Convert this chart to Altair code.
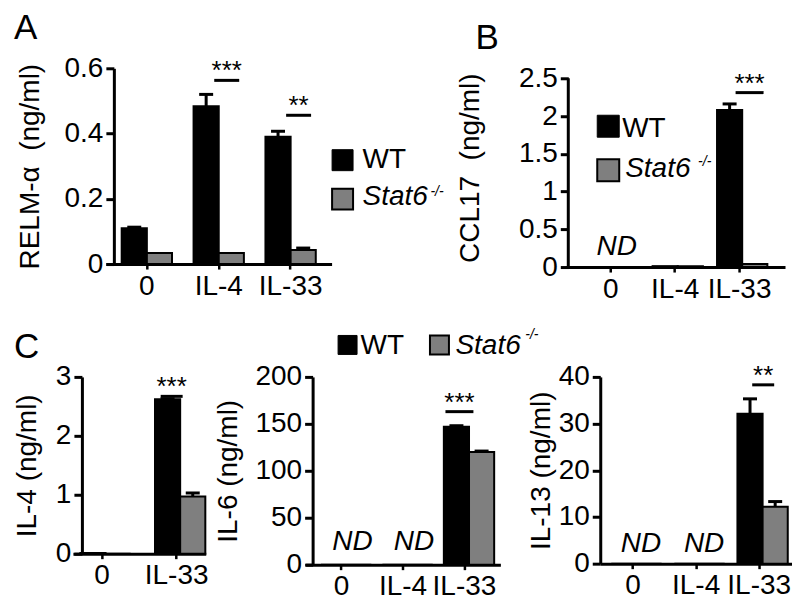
import altair as alt
import pandas as pd

FONT = "Liberation Sans"
BLACK = "#000000"
GRAY = "#7f7f7f"
GENOS = ["WT", "Stat6"]

# ---------------- Panel A : RELM-alpha ----------------
A_CATS = ["0", "IL-4", "IL-33"]
A_WT = [0.11, 0.484, 0.39]
A_WT_ERR = [0.113, 0.52, 0.407]
A_KO = [0.034, 0.034, 0.043]
A_KO_ERR = [0.034, 0.034, 0.049]
A_TICKS = [0, 0.2, 0.4, 0.6]
A_SIG_CATS = ["IL-4", "IL-33"]
A_SIG_TEXT = ["***", "**"]
A_SIG_Y = [0.563, 0.456]

# ---------------- Panel B : CCL17 ----------------
B_CATS = ["0", "IL-4", "IL-33"]
B_WT = [0.0, 0.012, 2.08]
B_WT_ERR = [0.0, 0.012, 2.16]
B_KO = [0.0, 0.012, 0.04]
B_KO_ERR = [0.0, 0.012, 0.04]
B_TICKS = [0, 0.5, 1, 1.5, 2, 2.5]
B_SIG_CATS = ["IL-33"]
B_SIG_TEXT = ["***"]
B_SIG_Y = [2.31]
B_ND_CATS = ["0"]
B_ND_Y = [0.16]

# ---------------- Panel C : IL-4 ----------------
C1_CATS = ["0", "IL-33"]
C1_WT = [0.01, 2.62]
C1_WT_ERR = [0.01, 2.63]
C1_KO = [0.0, 0.97]
C1_KO_ERR = [0.0, 1.03]
C1_TICKS = [0, 1, 2, 3]
C1_SIG_CATS = ["IL-33"]
C1_SIG_TEXT = ["***"]
C1_SIG_Y = [2.67]

# ---------------- Panel C : IL-6 ----------------
C2_CATS = ["0", "IL-4", "IL-33"]
C2_WT = [0, 0, 147]
C2_WT_ERR = [0, 0, 148]
C2_KO = [0, 0, 120]
C2_KO_ERR = [0, 0, 121]
C2_TICKS = [0, 50, 100, 150, 200]
C2_SIG_CATS = ["IL-33"]
C2_SIG_TEXT = ["***"]
C2_SIG_Y = [163]
C2_ND_CATS = ["0", "IL-4"]
C2_ND_Y = [16, 16]

# ---------------- Panel C : IL-13 ----------------
C3_CATS = ["0", "IL-4", "IL-33"]
C3_WT = [0, 0, 32.1]
C3_WT_ERR = [0, 0, 35.3]
C3_KO = [0, 0, 12.2]
C3_KO_ERR = [0, 0, 13.3]
C3_TICKS = [0, 10, 20, 30, 40]
C3_SIG_CATS = ["IL-33"]
C3_SIG_TEXT = ["**"]
C3_SIG_Y = [38.3]
C3_ND_CATS = ["0", "IL-4"]
C3_ND_Y = [2.6, 2.6]


def legend_layers(wsx, wsy, ksx, ksy, wtx, wty, ktx, kty, supx, supy, sq):
    one = alt.Chart(pd.DataFrame({"k": [0]}))
    return [
        one.mark_square(size=sq * sq, fill=BLACK, stroke=BLACK, strokeWidth=1, opacity=1)
        .encode(x=alt.value(wsx), y=alt.value(wsy)),
        one.mark_square(size=sq * sq, fill=GRAY, stroke=BLACK, strokeWidth=2, opacity=1)
        .encode(x=alt.value(ksx), y=alt.value(ksy)),
        one.mark_text(text="WT", align="left", baseline="alphabetic", font=FONT,
                      fontSize=28, color=BLACK)
        .encode(x=alt.value(wtx), y=alt.value(wty)),
        one.mark_text(text="Stat6", align="left", baseline="alphabetic", font=FONT,
                      fontSize=28, fontStyle="italic", color=BLACK)
        .encode(x=alt.value(ktx), y=alt.value(kty)),
        one.mark_text(text="-/-", align="left", baseline="alphabetic", font=FONT,
                      fontSize=14, fontStyle="italic", color=BLACK)
        .encode(x=alt.value(supx), y=alt.value(supy)),
    ]


def panel(cats, wt, wt_err, ko, ko_err, ymax, ticks, ytitle, w, h, pi, po, yoff, tpad,
          sig_cats, sig_text, sig_y, sig_dx, sig_w,
          nd_cats=None, nd_y=None, nd_dx=0, title=None, extra=None,
          manual_domain=None):
    n = len(cats)
    df = pd.DataFrame({
        "cat": cats + cats,
        "geno": ["WT"] * n + ["Stat6"] * n,
        "value": wt + ko,
        "err": wt_err + ko_err,
    })
    err_df = df[df["err"] > df["value"]]
    xs = alt.Scale(domain=cats, paddingInner=pi, paddingOuter=po)
    x = alt.X("cat:N", scale=xs, sort=cats, title=None,
              axis=alt.Axis(labelAngle=0, tickSize=5, tickWidth=2.5, domainWidth=3,
                            labelPadding=3))
    ys = alt.Scale(domain=[0, ymax], nice=False, zero=True)
    yax = alt.Axis(values=ticks, format="~r", title=ytitle, offset=yoff,
                   tickSize=8, tickWidth=3, domainWidth=3, labelPadding=3,
                   titlePadding=tpad, domain=manual_domain is None)
    xo = alt.XOffset("geno:N", sort=GENOS,
                     scale=alt.Scale(domain=GENOS, paddingInner=0, paddingOuter=0))

    bars = alt.Chart(df).mark_bar(stroke=BLACK, strokeWidth=2).encode(
        x=x, xOffset=xo,
        y=alt.Y("value:Q", scale=ys, axis=yax),
        color=alt.Color("geno:N", scale=alt.Scale(domain=GENOS, range=[BLACK, GRAY]),
                        legend=None),
    )
    stem = alt.Chart(err_df).mark_rule(color=BLACK, strokeWidth=3).encode(
        x=x, xOffset=xo, y=alt.Y("value:Q", scale=ys, axis=yax), y2="err:Q")
    cap = alt.Chart(err_df).mark_tick(color=BLACK, thickness=3, size=14, opacity=1).encode(
        x=x, xOffset=xo, y=alt.Y("err:Q", scale=ys, axis=yax))

    sig_df = pd.DataFrame({"cat": sig_cats, "label": sig_text, "y": sig_y})
    sig_line = alt.Chart(sig_df).mark_tick(color=BLACK, thickness=3, size=sig_w,
                                           xOffset=sig_dx, opacity=1).encode(
        x=x, y=alt.Y("y:Q", scale=ys, axis=yax))
    sig_lab = alt.Chart(sig_df).mark_text(font=FONT, fontSize=26, baseline="alphabetic",
                                          dy=-1, xOffset=sig_dx, color=BLACK).encode(
        x=x, y=alt.Y("y:Q", scale=ys, axis=yax), text="label:N")

    layers = [bars, stem, cap, sig_line, sig_lab]
    if nd_cats:
        nd_df = pd.DataFrame({"cat": nd_cats, "y": nd_y})
        layers.append(
            alt.Chart(nd_df).mark_text(text="ND", font=FONT, fontSize=28, fontStyle="italic",
                                       baseline="alphabetic", dx=nd_dx, color=BLACK)
            .encode(x=x, y=alt.Y("y:Q", scale=ys, axis=yax)))
    if manual_domain is not None:
        dom = alt.Chart(pd.DataFrame({"lo": [0], "hi": [manual_domain]}))
        layers.append(dom.mark_rule(color=BLACK, strokeWidth=3).encode(
            x=alt.value(-yoff), y=alt.Y("lo:Q", scale=ys, axis=yax), y2="hi:Q"))
    if extra:
        layers.extend(extra)
    ch = alt.layer(*layers).properties(width=w, height=h)
    if title is not None:
        ch = ch.properties(title=title)
    return ch


def letter(t, dx, dy):
    return alt.TitleParams(t, anchor="start", frame="group", font=FONT, fontSize=35,
                           fontWeight="normal", color=BLACK, dx=dx, dy=dy, offset=0)


A = panel(A_CATS, A_WT, A_WT_ERR, A_KO, A_KO_ERR, 0.6, A_TICKS,
          "RELM-\u03b1\u00a0 (ng/ml)", 226, 196, 0.3, 0.22, -8, 20,
          A_SIG_CATS, A_SIG_TEXT, A_SIG_Y, 8, 25,
          title=letter("A", -92, -8),
          extra=legend_layers(237, 92, 237, 131, 257, 100, 257, 137, 325, 128, 21))

B = panel(B_CATS, B_WT, B_WT_ERR, B_KO, B_KO_ERR, 2.632, B_TICKS,
          "CCL17\u00a0 (ng/ml)", 220, 199, 0.3, 0.355, -3, 34,
          B_SIG_CATS, B_SIG_TEXT, B_SIG_Y, 10, 28,
          nd_cats=B_ND_CATS, nd_y=B_ND_Y, nd_dx=6,
          title=letter("B", -90, -8),
          extra=legend_layers(43, 58, 43, 102, 57, 69, 60, 109, 133, 98, 22),
          manual_domain=2.5)

C1 = panel(C1_CATS, C1_WT, C1_WT_ERR, C1_KO, C1_KO_ERR, 3, C1_TICKS,
           "IL-4 (ng/ml)", 133, 177, 0.42, 0.1, -9, 14,
           C1_SIG_CATS, C1_SIG_TEXT, C1_SIG_Y, -5, 22,
           title=letter("C", -59, 2))

C2 = panel(C2_CATS, C2_WT, C2_WT_ERR, C2_KO, C2_KO_ERR, 200, C2_TICKS,
           "IL-6 (ng/ml)", 195, 188, 0.33, 0.25, -7, 12,
           C2_SIG_CATS, C2_SIG_TEXT, C2_SIG_Y, -5, 28,
           nd_cats=C2_ND_CATS, nd_y=C2_ND_Y, nd_dx=11,
           extra=legend_layers(42, -32, 134, -32, 55, -23, 150, -23, 220, -38, 19))

C3 = panel(C3_CATS, C3_WT, C3_WT_ERR, C3_KO, C3_KO_ERR, 40, C3_TICKS,
           "IL-13 (ng/ml)", 192, 187, 0.31, 0.175, 0, 3,
           C3_SIG_CATS, C3_SIG_TEXT, C3_SIG_Y, 4, 22,
           nd_cats=C3_ND_CATS, nd_y=C3_ND_Y, nd_dx=8)


def spacer(w):
    return alt.Chart(pd.DataFrame({"k": [0]})).mark_point(opacity=0).encode(
        x=alt.value(0), y=alt.value(0)).properties(width=w, height=10)


top = alt.hconcat(spacer(32), A, spacer(232), B, spacing=1, bounds="flush")
bottom = alt.hconcat(C1, C2, C3, spacing=100, bounds="flush")

chart = alt.vconcat(top, bottom, spacing=25).properties(
    padding={"left": 5, "top": 3, "right": 0, "bottom": 0}
).configure_view(stroke=None).configure_axis(
    grid=False, domainColor=BLACK, tickColor=BLACK, labelColor=BLACK, titleColor=BLACK,
    labelFont=FONT, titleFont=FONT, labelFontSize=28, titleFontSize=28,
    titleFontWeight="normal",
).configure_concat(spacing=0)

chart.save("out.html", embed_options={"renderer": "svg", "actions": False})
